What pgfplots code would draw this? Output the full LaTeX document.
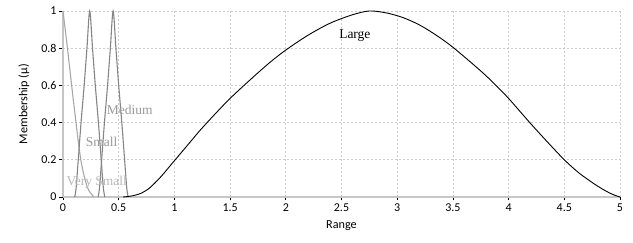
\documentclass[border=0pt]{standalone}
\usepackage{fontspec}
\setmainfont{Carlito}
\newfontfamily\serifont{Liberation Serif}
\usepackage{pgfplots}
\pgfplotsset{compat=1.18}
\definecolor{vsgray}{HTML}{A8A8A8}
\definecolor{mgray}{HTML}{858585}
\definecolor{lblvs}{HTML}{B8B8B8}
\definecolor{lblm}{HTML}{999999}
\begin{document}
\begin{tikzpicture}
\begin{axis}[
  scale only axis, width=557pt, height=186pt,
  xmin=0, xmax=5, ymin=0, ymax=1,
  axis lines*=left,
  axis line style={draw=gray!45, line width=1.2pt},
  xtick={0,0.5,1,1.5,2,2.5,3,3.5,4,4.5,5},
  ytick={0,0.2,0.4,0.6,0.8,1},
  tick align=outside,
  major tick length=3.5pt,
  tick style={black, line width=0.6pt},
  grid=major,
  major grid style={gray!40, line width=0.6pt, dash pattern=on 2pt off 2pt},
  ticklabel style={font=\fontsize{12}{13}\selectfont},
  yticklabel style={xshift=0.5pt},
  /pgf/number format/assume math mode=true,
  xlabel={Range}, ylabel={Membership (µ)},
  label style={font=\fontsize{12.2}{13}\selectfont},
  xlabel style={at={(axis description cs:0.5,-0.155)}, anchor=center},
  ylabel style={at={(axis description cs:-0.07,0.5)}, anchor=center},
  clip=false,
]
% Very Small
\addplot[vsgray, line width=1.1pt, smooth] coordinates {
 (0,1) (0.04,0.8) (0.097,0.5) (0.16,0.2) (0.22,0.05) (0.28,0)};
% Small
\addplot[mgray, line width=1.1pt, smooth] coordinates {
 (0.105,0) (0.118,0.05) (0.137,0.2) (0.162,0.4) (0.19,0.6) (0.215,0.8) (0.24,1)
 (0.265,0.8) (0.29,0.6) (0.318,0.4) (0.343,0.2) (0.362,0.05) (0.375,0)};
% Medium
\addplot[mgray, line width=1.1pt, smooth] coordinates {
 (0.315,0) (0.328,0.05) (0.347,0.2) (0.372,0.4) (0.40,0.6) (0.425,0.8) (0.45,1)
 (0.475,0.8) (0.50,0.6) (0.528,0.4) (0.553,0.2) (0.572,0.05) (0.585,0)};
% Large
\addplot[black, line width=0.9pt, smooth] coordinates {
 (0.54,0) (0.62,0.006) (0.70,0.02) (0.78,0.05) (0.88,0.11) (1.00,0.195)
 (1.12,0.28) (1.23,0.358) (1.36,0.443) (1.50,0.53) (1.68,0.63) (1.85,0.72)
 (2.00,0.79) (2.20,0.87) (2.40,0.935) (2.60,0.98) (2.75,1.0) (2.90,0.99)
 (3.05,0.965) (3.20,0.925) (3.35,0.87) (3.50,0.805) (3.74,0.683) (3.87,0.61)
 (4.00,0.53) (4.19,0.40) (4.35,0.295) (4.50,0.20) (4.63,0.13) (4.76,0.074)
 (4.85,0.04) (4.93,0.015) (5.00,0)};
\node[font=\serifont\fontsize{13.5}{14}\selectfont, text=black] at (axis cs:2.62,0.867) {Large};
\node[font=\serifont\fontsize{13.5}{14}\selectfont, text=lblm] at (axis cs:0.60,0.468) {Medium};
\node[font=\serifont\fontsize{13.5}{14}\selectfont, text=lblm] at (axis cs:0.347,0.297) {Small};
\node[font=\serifont\fontsize{13.5}{14}\selectfont, text=lblvs] at (axis cs:0.303,0.077) {Very Small};
\end{axis}
\pgfresetboundingbox
\path[use as bounding box] (-63pt,-46pt) rectangle (570pt,197pt);
\end{tikzpicture}
\end{document}
